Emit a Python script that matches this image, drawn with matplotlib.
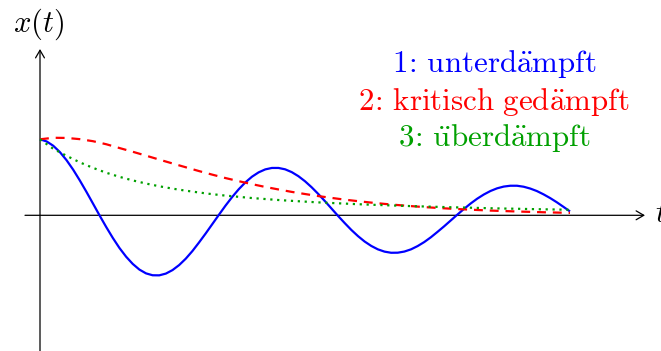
import numpy as np
import matplotlib
matplotlib.use("Agg")
import matplotlib.pyplot as plt
from matplotlib.patches import FancyArrowPatch

plt.rcParams["mathtext.fontset"] = "cm"

# time samples
t = np.linspace(0.0, 10.0, 41)
t_fine = np.linspace(0.0, 10.0, 81)

# 1: underdamped oscillation (sampled on t_fine)
x_under = [1.000, 0.972, 0.915, 0.832, 0.726, 0.601, 0.460, 0.310, 0.154, -0.003,
           -0.155, -0.299, -0.431, -0.545, -0.640, -0.714, -0.764, -0.789, -0.790, -0.767,
           -0.721, -0.655, -0.571, -0.471, -0.358, -0.240, -0.117, 0.006, 0.127, 0.240,
           0.343, 0.433, 0.508, 0.565, 0.604, 0.623, 0.623, 0.605, 0.568, 0.515,
           0.448, 0.369, 0.281, 0.187, 0.089, -0.009, -0.103, -0.193, -0.274, -0.345,
           -0.403, -0.448, -0.478, -0.493, -0.492, -0.477, -0.448, -0.405, -0.352, -0.289,
           -0.218, -0.145, -0.068, 0.009, 0.084, 0.155, 0.219, 0.274, 0.320, 0.355,
           0.378, 0.389, 0.389, 0.376, 0.352, 0.319, 0.276, 0.227, 0.172, 0.112,
           0.051]

# 2: critically damped
x_crit = [1.000, 1.020, 1.018, 1.002, 0.975, 0.935, 0.885, 0.836, 0.785, 0.733,
          0.682, 0.632, 0.582, 0.535, 0.490, 0.449, 0.410, 0.373, 0.340, 0.308,
          0.280, 0.253, 0.229, 0.206, 0.186, 0.167, 0.150, 0.135, 0.121, 0.108,
          0.097, 0.087, 0.078, 0.070, 0.062, 0.056, 0.050, 0.045, 0.040, 0.036,
          0.032]

# 3: overdamped
x_over = [1.000, 0.875, 0.783, 0.697, 0.624, 0.560, 0.506, 0.459, 0.418, 0.382,
          0.351, 0.324, 0.300, 0.278, 0.259, 0.243, 0.227, 0.214, 0.201, 0.190,
          0.180, 0.170, 0.162, 0.154, 0.146, 0.139, 0.133, 0.127, 0.121, 0.116,
          0.111, 0.106, 0.102, 0.097, 0.093, 0.089, 0.086, 0.082, 0.079, 0.076,
          0.073]

# text-style colon: cancel the relation spacing mathtext puts around ':'
labels = [r"$\mathrm{1\!:\!\ unterd\ddot{a}mpft}$",
          r"$\mathrm{2\!:\!\ kritisch\ ged\ddot{a}mpft}$",
          r"$\mathrm{3\!:\!\ \ddot{u}berd\ddot{a}mpft}$"]

BLUE = "#0000ff"
RED = "#ff0000"
GREEN = "#00a000"

W, H = 661, 351
fig = plt.figure(figsize=(W / 100, H / 100), dpi=100)
ax = fig.add_axes([0, 0, 1, 1])
ax.set_axis_off()

# pixel scale: origin at (40, 215.3), 53 px per time unit, 76 px per amplitude unit
X0, Y0, SX, SY = 40.0, 215.3, 53.0, 76.0
ax.set_xlim(-X0 / SX, (W - X0) / SX)
ax.set_ylim(-(H - Y0) / SY, Y0 / SY)


def px(xp, yp):
    return (xp - X0) / SX, (Y0 - yp) / SY


# axes with arrow heads
arrow_kw = dict(arrowstyle="->,head_length=0.55,head_width=0.32", mutation_scale=10,
                lw=0.9, color="black", shrinkA=0, shrinkB=0)
ax.add_patch(FancyArrowPatch(px(25, Y0), px(645, Y0), **arrow_kw))
ax.add_patch(FancyArrowPatch(px(X0, 352), px(X0, 49), **arrow_kw))

ax.plot(t_fine, x_under, color=BLUE, lw=1.6, solid_capstyle="butt")
ax.plot(t, x_crit, color=RED, lw=1.6, linestyle=(0, (4.0, 3.1)))
ax.plot(t, x_over, color=GREEN, lw=1.6, linestyle=(0, (1.0, 2.1)))

ax.text(*px(39, 32), r"$x(t)$", fontsize=22, ha="center", va="baseline")
ax.text(*px(655, 222), r"$t$", fontsize=22, ha="left", va="baseline")

for lab, col, yb in zip(labels, [BLUE, RED, GREEN], [71.7, 110.0, 145.5]):
    ax.text(*px(494, yb), lab, fontsize=22.3, color=col, ha="center", va="baseline")

fig.savefig("out.png", dpi=100)
